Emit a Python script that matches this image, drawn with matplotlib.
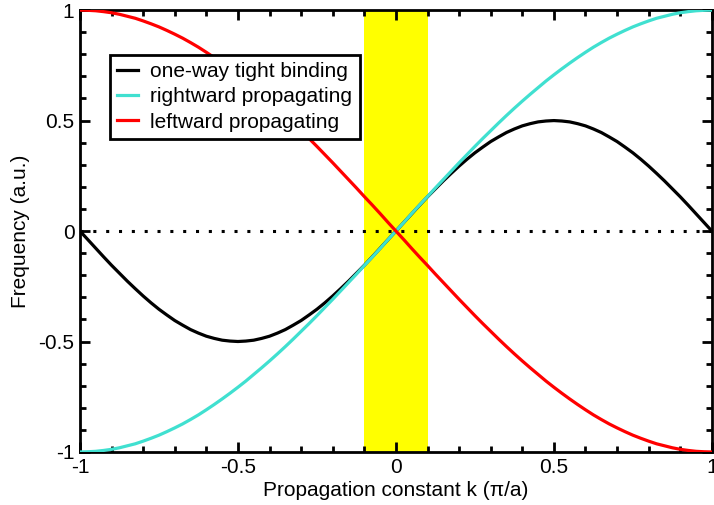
import numpy as np
import matplotlib
matplotlib.use('Agg')
import matplotlib.pyplot as plt
from matplotlib.ticker import MultipleLocator, FuncFormatter

plt.rcParams['font.family'] = ['Liberation Sans', 'DejaVu Sans']

k = np.linspace(-1, 1, 81)
one_way = [0.0, -0.039, -0.078, -0.117, -0.155, -0.191, -0.227, -0.261, -0.294, -0.325,
           -0.354, -0.380, -0.405, -0.426, -0.446, -0.462, -0.476, -0.486, -0.494, -0.498,
           -0.5, -0.498, -0.494, -0.486, -0.476, -0.462, -0.446, -0.426, -0.405, -0.380,
           -0.354, -0.325, -0.294, -0.261, -0.227, -0.191, -0.155, -0.117, -0.078, -0.039,
           0.0,
           0.039, 0.078, 0.117, 0.155, 0.191, 0.227, 0.261, 0.294, 0.325, 0.354,
           0.380, 0.405, 0.426, 0.446, 0.462, 0.476, 0.486, 0.494, 0.498, 0.5,
           0.498, 0.494, 0.486, 0.476, 0.462, 0.446, 0.426, 0.405, 0.380, 0.354,
           0.325, 0.294, 0.261, 0.227, 0.191, 0.155, 0.117, 0.078, 0.039, 0.0]
rightward = [-1.0, -0.999, -0.997, -0.993, -0.988, -0.981, -0.972, -0.963, -0.951, -0.938,
             -0.924, -0.908, -0.891, -0.873, -0.853, -0.832, -0.809, -0.785, -0.760, -0.734,
             -0.707, -0.679, -0.649, -0.619, -0.588, -0.556, -0.523, -0.489, -0.454, -0.419,
             -0.383, -0.346, -0.309, -0.271, -0.233, -0.195, -0.156, -0.118, -0.079, -0.039,
             0.0,
             0.039, 0.079, 0.118, 0.156, 0.195, 0.233, 0.271, 0.309, 0.346, 0.383,
             0.419, 0.454, 0.489, 0.523, 0.556, 0.588, 0.619, 0.649, 0.679, 0.707,
             0.734, 0.760, 0.785, 0.809, 0.832, 0.853, 0.873, 0.891, 0.908, 0.924,
             0.938, 0.951, 0.963, 0.972, 0.981, 0.988, 0.993, 0.997, 0.999, 1.0]
leftward = [1.0, 0.999, 0.997, 0.993, 0.988, 0.981, 0.972, 0.963, 0.951, 0.938,
            0.924, 0.908, 0.891, 0.873, 0.853, 0.832, 0.809, 0.785, 0.760, 0.734,
            0.707, 0.679, 0.649, 0.619, 0.588, 0.556, 0.523, 0.489, 0.454, 0.419,
            0.383, 0.346, 0.309, 0.271, 0.233, 0.195, 0.156, 0.118, 0.079, 0.039,
            0.0,
            -0.039, -0.079, -0.118, -0.156, -0.195, -0.233, -0.271, -0.309, -0.346, -0.383,
            -0.419, -0.454, -0.489, -0.523, -0.556, -0.588, -0.619, -0.649, -0.679, -0.707,
            -0.734, -0.760, -0.785, -0.809, -0.832, -0.853, -0.873, -0.891, -0.908, -0.924,
            -0.938, -0.951, -0.963, -0.972, -0.981, -0.988, -0.993, -0.997, -0.999, -1.0]
band = [-0.1, 0.1]

fig = plt.figure(figsize=(7.14, 5.05), dpi=100)
ax = fig.add_axes([0.112, 0.105, 0.885, 0.875])

ax.axvspan(band[0], band[1], color='#ffff00', lw=0, zorder=0)
ax.axhline(0, color='black', ls=(0, (1, 3.2)), lw=2.2, zorder=1)
ax.plot(k, one_way, color='black', lw=2.3, label='one-way tight binding', zorder=2)
ax.plot(k, rightward, color='#40e0d0', lw=2.3, label='rightward propagating', zorder=3)
ax.plot(k, leftward, color='#ff0000', lw=2.3, label='leftward propagating', zorder=4)

ax.set_xlim(-1, 1)
ax.set_ylim(-1, 1)

def fmt(v, pos):
    if abs(v - round(v)) < 1e-9:
        return '%d' % round(v)
    return '%g' % v

for a in (ax.xaxis, ax.yaxis):
    a.set_major_locator(MultipleLocator(0.5))
    a.set_minor_locator(MultipleLocator(0.1))
    a.set_major_formatter(FuncFormatter(fmt))

ax.tick_params(which='both', direction='in', top=True, right=True, width=2, labelsize=15, pad=4)
ax.tick_params(which='major', length=7)
ax.tick_params(which='minor', length=4)
for s in ax.spines.values():
    s.set_linewidth(2)

ax.set_xlabel('Propagation constant k (\u03c0/a)', fontsize=15, labelpad=3)
ax.set_ylabel('Frequency (a.u.)', fontsize=15, labelpad=6)

leg = ax.legend(loc='upper left', bbox_to_anchor=(0.047, 0.899), fontsize=15,
                frameon=True, fancybox=False, edgecolor='black', framealpha=1,
                handlelength=1.0, handletextpad=0.6, borderpad=0.35, labelspacing=0.3,
                borderaxespad=0)
leg.get_frame().set_linewidth(2)

fig.savefig('out.png', dpi=100)
